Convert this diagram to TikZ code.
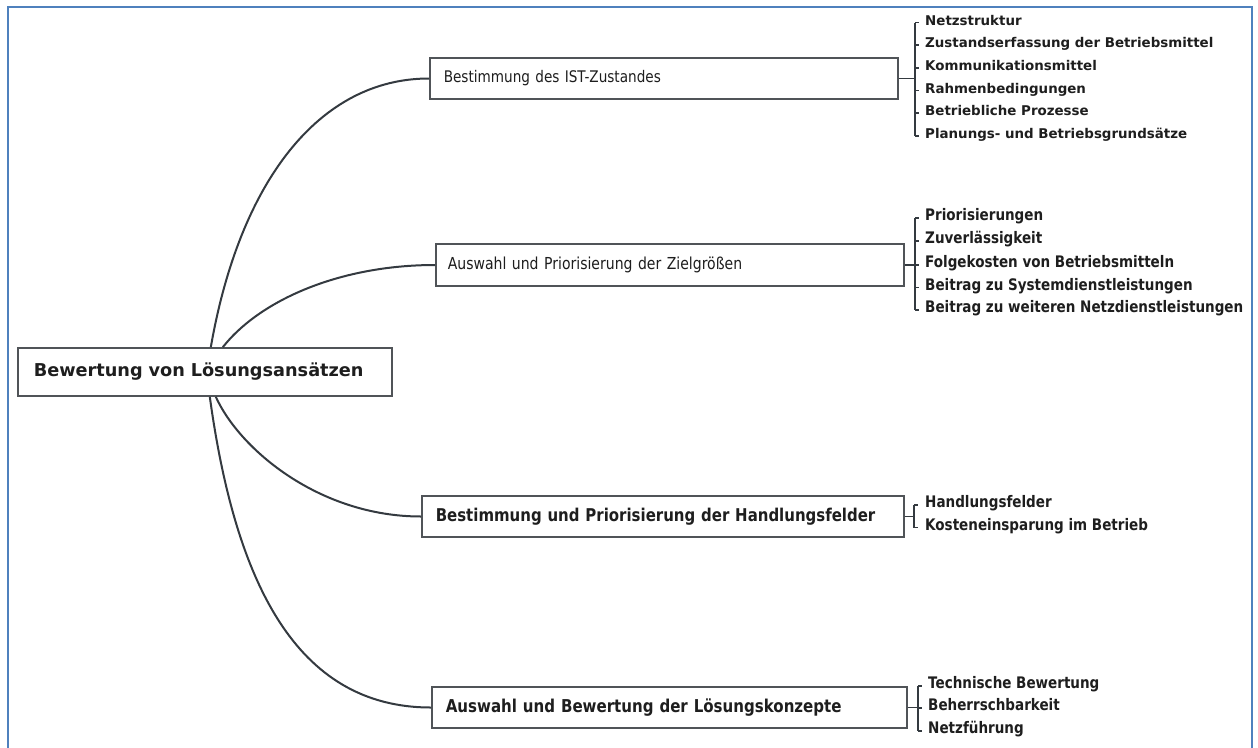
\documentclass[tikz,border=0pt]{standalone}
\usepackage{fontspec}
\setmainfont{DejaVu Sans}
\newfontfamily\cfont[FakeStretch=0.85]{DejaVu Sans}
\definecolor{frameblue}{RGB}{79,129,189}
\definecolor{boxgray}{RGB}{80,84,88}
\definecolor{linegray}{RGB}{52,58,64}
\definecolor{txt}{RGB}{30,30,30}
\tikzset{
  box/.style={draw=boxgray, line width=1.6pt, fill=white, anchor=west, align=left, text=txt, inner ysep=0pt},
  leaf/.style={anchor=west, inner sep=0pt, text=txt, text height=0.72em, text depth=0.2em},
  leafA/.style={leaf, font=\bfseries\fontsize{13.4}{15}\selectfont},
  leafB/.style={leaf, font=\cfont\bfseries\fontsize{15.9}{18}\selectfont},
  conn/.style={draw=linegray, line width=2pt},
  brk/.style={draw=linegray, line width=1.4pt},
}
\begin{document}
\begin{tikzpicture}[x=1pt,y=-1pt]
\useasboundingbox (0,0) rectangle (1258,747);
\fill[white] (0,0) rectangle (1258,747);
\draw[frameblue, line width=2.2pt] (8,760) -- (8,7) -- (1252,7) -- (1252,760);

% main node
\node[box, minimum height=48pt, inner xsep=16pt, text width=342pt,
      font=\bfseries\fontsize{17.7}{20}\selectfont] (main) at (17,372) {Bewertung von Lösungsansätzen};

% branch boxes
\node[box, minimum height=41pt, inner xsep=14pt, text width=440pt,
      font=\cfont\fontsize{16}{18}\selectfont] (b1) at (429,78.5) {Bestimmung des IST-Zustandes};
\node[box, minimum height=42pt, inner xsep=12pt, text width=444pt,
      font=\cfont\fontsize{16.5}{19}\selectfont] (b2) at (435,265) {Auswahl und Priorisierung der Zielgrößen};
\node[box, minimum height=41pt, inner xsep=14pt, text width=454pt,
      font=\cfont\bfseries\fontsize{17.6}{20}\selectfont] (b3) at (421,516.5) {Bestimmung und Priorisierung der Handlungsfelder};
\node[box, minimum height=41pt, inner xsep=14pt, text width=447pt,
      font=\cfont\bfseries\fontsize{17.7}{20}\selectfont] (b4) at (431,707.5) {Auswahl und Bewertung der Lösungskonzepte};

% curved connectors
\draw[conn] ([xshift=6pt]main.north) .. controls (240,180) and (320,78.5) .. (b1.west);
\draw[conn] ([xshift=18pt]main.north) .. controls (260,300) and (340,265) .. (b2.west);
\draw[conn] ([xshift=11pt]main.south) .. controls (240,450) and (320,516.5) .. (b3.west);
\draw[conn] ([xshift=5pt]main.south) .. controls (235,580) and (295,707.5) .. (b4.west);

% leaves of branch 1
\node[leafA] (l11) at (925,22.5) {Netzstruktur};
\node[leafA] (l12) at (925,45) {Zustandserfassung der Betriebsmittel};
\node[leafA] (l13) at (925,68) {Kommunikationsmittel};
\node[leafA] (l14) at (925,90.5) {Rahmenbedingungen};
\node[leafA] (l15) at (925,113) {Betriebliche Prozesse};
\node[leafA] (l16) at (925,136) {Planungs- und Betriebsgrundsätze};
\coordinate (k1) at (915,78.5);
\draw[brk] (b1.east) -- (k1);
\draw[brk] (l11.west -| k1) -- (l16.west -| k1);
\foreach \n in {l11,l12,l13,l14,l15,l16} \draw[brk] (\n.west -| k1) -- ++(4,0);

% leaves of branch 2
\node[leafB] (l21) at (925,218) {Priorisierungen};
\node[leafB] (l22) at (925,241) {Zuverlässigkeit};
\node[leafB] (l23) at (925,265) {Folgekosten von Betriebsmitteln};
\node[leafB] (l24) at (925,287.5) {Beitrag zu Systemdienstleistungen};
\node[leafB] (l25) at (925,310) {Beitrag zu weiteren Netzdienstleistungen};
\coordinate (k2) at (915,265);
\draw[brk] (b2.east) -- (k2);
\draw[brk] (l21.west -| k2) -- (l25.west -| k2);
\foreach \n in {l21,l22,l23,l24,l25} \draw[brk] (\n.west -| k2) -- ++(4,0);

% leaves of branch 3
\node[leafB] (l31) at (925,505) {Handlungsfelder};
\node[leafB] (l32) at (925,527.5) {Kosteneinsparung im Betrieb};
\coordinate (k3) at (914,516.5);
\draw[brk] (b3.east) -- (k3);
\draw[brk] (l31.west -| k3) -- (l32.west -| k3);
\foreach \n in {l31,l32} \draw[brk] (\n.west -| k3) -- ++(4,0);

% leaves of branch 4
\node[leafB] (l41) at (928,686) {Technische Bewertung};
\node[leafB] (l42) at (928,708) {Beherrschbarkeit};
\node[leafB] (l43) at (928,731) {Netzführung};
\coordinate (k4) at (918,707.5);
\draw[brk] (b4.east) -- (k4);
\draw[brk] (l41.west -| k4) -- (l43.west -| k4);
\foreach \n in {l41,l42,l43} \draw[brk] (\n.west -| k4) -- ++(4,0);
\end{tikzpicture}
\end{document}
